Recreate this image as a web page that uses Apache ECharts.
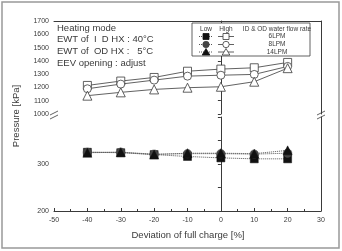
<!DOCTYPE html>
<html>
<head>
<meta charset="utf-8">
<script src="https://cdn.jsdelivr.net/npm/echarts@6/dist/echarts.min.js"></script>
<style>
  html, body { margin: 0; padding: 0; background: #fff; }
  #chart { width: 342px; height: 251px; }
</style>
</head>
<body>
<div id="chart"></div>
<script>
var dom = document.getElementById("chart");
var myChart;

// deviation of full charge [%]
var deviation = [-40, -30, -20, -10, 0, 10, 20];

// High side pressure (open markers)
var high6LPM = [1215, 1248, 1275, 1322, 1338, 1348, 1388];
var high8LPM = [1190, 1225, 1255, 1285, 1292, 1298, 1358];
var high14LPM = [1138, 1163, 1185, 1198, 1205, 1243, 1345];

// Low side pressure (filled markers)
var low6LPM = [325, 324, 320, 316, 313, 311, 311];
var low8LPM = [325, 325, 321, 322, 322, 321, 323];
var low14LPM = [324, 325, 320, 323, 323, 322, 329];

var flowRates = ['6LPM', '8LPM', '14LPM'];
var noteLines = ['Heating mode', 'EWT of  I  D HX : 40\u00b0C', 'EWT of  OD HX :   5\u00b0C', 'EEV opening : adjust'];

var FONT = 'Liberation Sans';
var INK = '#3a3a3a';

function pairs(ys) {
    return deviation.map(function (x, i) { return [x, ys[i]]; });
}

function highSeries(name, ys, symbol, size) {
    return {
        name: name + ' High',
        type: 'line',
        xAxisIndex: 0,
        yAxisIndex: 0,
        data: pairs(ys),
        symbol: symbol,
        symbolSize: size,
        lineStyle: { color: INK, width: 0.8 },
        itemStyle: { color: '#fff', borderColor: INK, borderWidth: 0.8 },
        z: 3
    };
}

function lowSeries(name, ys, symbol, size, color) {
    return {
        name: name + ' Low',
        type: 'line',
        xAxisIndex: 1,
        yAxisIndex: 2,
        data: pairs(ys),
        symbol: symbol,
        symbolSize: size,
        lineStyle: { color: '#555', width: 1, type: 'dotted' },
        itemStyle: { color: color, borderColor: color, borderWidth: 0.5 },
        z: 3
    };
}

// axis break mark "//"
function breakMark(x, y) {
    return {
        type: 'group',
        x: x, y: y,
        z: 100,
        children: [
            { type: 'polygon', shape: { points: [[-4, -1], [4, -5], [4, -1], [-4, 3]] }, style: { fill: '#fff' } },
            { type: 'line', shape: { x1: -4, y1: -1, x2: 4, y2: -5 }, style: { stroke: INK, lineWidth: 0.8 } },
            { type: 'line', shape: { x1: -4, y1: 3, x2: 4, y2: -1 }, style: { stroke: INK, lineWidth: 0.8 } }
        ]
    };
}

// legend drawn by hand, it is a small table
function legendRow(i, y) {
    var sym = ['rect', 'circle', 'triangle'][i];
    var lowColor = ['#111', '#444', '#111'][i];
    function marker(cx, fill, stroke) {
        if (sym === 'rect') {
            return { type: 'rect', shape: { x: cx - 3, y: y - 3, width: 6, height: 6 }, style: { fill: fill, stroke: stroke, lineWidth: 0.8 } };
        }
        if (sym === 'circle') {
            return { type: 'circle', shape: { cx: cx, cy: y, r: 3.2 }, style: { fill: fill, stroke: stroke, lineWidth: 0.8 } };
        }
        return { type: 'polygon', shape: { points: [[cx, y - 3.5], [cx + 3.8, y + 3], [cx - 3.8, y + 3]] }, style: { fill: fill, stroke: stroke, lineWidth: 0.8 } };
    }
    return [
        { type: 'line', shape: { x1: 199, y1: y, x2: 213, y2: y }, style: { stroke: '#555', lineWidth: 1, lineDash: [1, 1] } },
        marker(206, lowColor, lowColor),
        { type: 'line', shape: { x1: 218, y1: y, x2: 234, y2: y }, style: { stroke: INK, lineWidth: 0.8 } },
        marker(226, '#fff', INK),
        { type: 'text', x: 277, y: y, style: { text: flowRates[i], font: '6.5px ' + FONT, fill: INK, align: 'center', verticalAlign: 'middle' } }
    ];
}

var graphics = [
    { type: 'rect', shape: { x: 2, y: 2, width: 337, height: 246 }, style: { fill: 'none', stroke: '#999', lineWidth: 1.5 }, z: 0 },
    breakMark(54, 116),
    breakMark(321, 116),
    { type: 'text', x: 16, y: 116, rotation: Math.PI / 2, style: { text: 'Pressure [kPa]', font: '9.5px ' + FONT, fill: INK, align: 'center', verticalAlign: 'middle' } },
    { type: 'text', x: 188, y: 235, style: { text: 'Deviation of full charge [%]', font: '9.5px ' + FONT, fill: INK, align: 'center', verticalAlign: 'middle' } },
    { type: 'rect', shape: { x: 192, y: 23, width: 118, height: 33 }, style: { fill: '#fff', stroke: INK, lineWidth: 0.8 }, z: 50 },
    { type: 'text', x: 206, y: 29, style: { text: 'Low', font: '6.5px ' + FONT, fill: INK, align: 'center', verticalAlign: 'middle' }, z: 51 },
    { type: 'text', x: 226, y: 29, style: { text: 'High', font: '6.5px ' + FONT, fill: INK, align: 'center', verticalAlign: 'middle' }, z: 51 },
    { type: 'text', x: 277, y: 29, style: { text: 'ID & OD water flow rate', font: '6.5px ' + FONT, fill: INK, align: 'center', verticalAlign: 'middle' }, z: 51 }
];
[36.5, 44.5, 52].forEach(function (y, i) {
    legendRow(i, y).forEach(function (g) { g.z = 51; graphics.push(g); });
});
noteLines.forEach(function (t, i) {
    graphics.push({ type: 'text', x: 57, y: 28 + i * 11.7, style: { text: t, font: '9.5px ' + FONT, fill: INK, verticalAlign: 'middle' }, z: 40 });
});

var lineOnly = { show: true, lineStyle: { color: INK, width: 1 } };
function plain(v) { return String(v); }

var option = {
    backgroundColor: '#fff',
    animation: false,
    grid: [
        { left: 54, top: 21, width: 267, height: 93 },
        { left: 54, top: 117, width: 267, height: 94 }
    ],
    xAxis: [
        {
            type: 'value', gridIndex: 0, position: 'top', min: -50, max: 30, interval: 10,
            axisLine: lineOnly, axisTick: { show: false }, axisLabel: { show: false }, splitLine: { show: false }
        },
        {
            type: 'value', gridIndex: 1, position: 'bottom', min: -50, max: 30, interval: 10,
            axisLine: lineOnly,
            axisTick: { show: true, inside: true, length: 3, lineStyle: { color: INK } },
            minorTick: { show: true, splitNumber: 2, length: 2, lineStyle: { color: INK } },
            axisLabel: { fontSize: 7, fontFamily: FONT, color: INK, margin: 6, formatter: plain },
            splitLine: { show: false }
        }
    ],
    yAxis: [
        {
            type: 'value', gridIndex: 0, min: 1000, max: 1700, interval: 100,
            axisLine: lineOnly,
            axisTick: { show: true, length: 3, lineStyle: { color: INK } },
            axisLabel: { fontSize: 7, fontFamily: FONT, color: INK, margin: 5, formatter: plain },
            splitLine: { show: false }
        },
        {
            type: 'value', gridIndex: 0, position: 'right', min: 1000, max: 1700,
            axisLine: lineOnly, axisTick: { show: false }, axisLabel: { show: false }, splitLine: { show: false }
        },
        {
            type: 'value', gridIndex: 1, min: 200, max: 400, interval: 50,
            axisLine: lineOnly,
            axisTick: { show: true, length: 3, lineStyle: { color: INK } },
            axisLabel: {
                fontSize: 7, fontFamily: FONT, color: INK, margin: 5,
                formatter: function (v) { return (v === 200 || v === 300) ? String(v) : ''; }
            },
            splitLine: { show: false }
        },
        {
            type: 'value', gridIndex: 1, position: 'right', min: 200, max: 400,
            axisLine: lineOnly, axisTick: { show: false }, axisLabel: { show: false }, splitLine: { show: false }
        }
    ],
    series: [
        highSeries('6LPM', high6LPM, 'rect', 8),
        highSeries('8LPM', high8LPM, 'circle', 8),
        highSeries('14LPM', high14LPM, 'triangle', 9),
        lowSeries('6LPM', low6LPM, 'rect', 8, '#111'),
        lowSeries('8LPM', low8LPM, 'circle', 8.5, '#444'),
        lowSeries('14LPM', low14LPM, 'triangle', 9, '#111')
    ],
    graphic: graphics
};

myChart = echarts.init(dom, null, { renderer: 'canvas' });
myChart.setOption(option, true);
</script>
</body>
</html>
